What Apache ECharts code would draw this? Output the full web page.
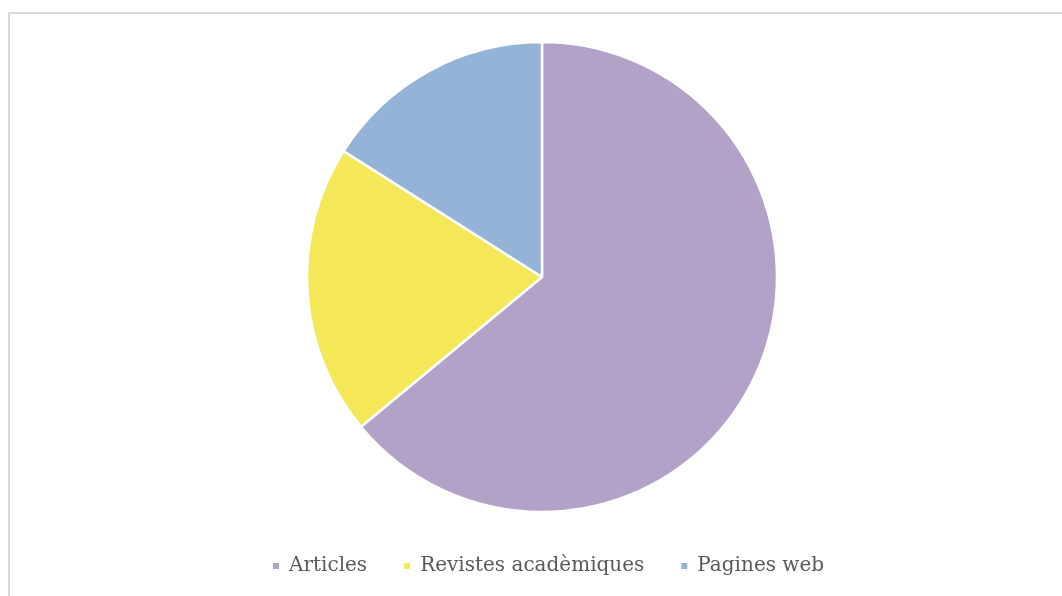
<!DOCTYPE html>
<html>
<head>
<meta charset="utf-8">
<script src="https://cdn.jsdelivr.net/npm/echarts@6/dist/echarts.min.js"></script>
<style>
  html, body { margin: 0; padding: 0; background: #fff; }
  #frame {
    position: absolute; left: 8px; top: 12px; width: 1060px; height: 590px;
    border-left: 2px solid #d9d9d9; border-top: 2px solid #d9d9d9;
  }
  #chart { position: absolute; left: 0; top: 0; width: 1062px; height: 596px; }
</style>
</head>
<body>
<div id="frame"></div>
<div id="chart"></div>
<script>
  const categories = ["Articles", "Revistes acadèmiques", "Pagines web"];
  const values = [16, 5, 4];
  const colors = ["#b3a2c7", "#f4e858", "#95b3d7"];

  const chart = echarts.init(document.getElementById("chart"));
  chart.setOption({
    animation: false,
    color: colors,
    legend: {
      data: categories,
      bottom: 15,
      left: 266,
      icon: "rect",
      itemWidth: 8,
      itemHeight: 8,
      itemGap: 35,
      textStyle: {
        fontFamily: "DejaVu Serif",
        fontSize: 20,
        color: "#595959",
        padding: [0, 0, 0, 4],
      },
    },
    series: [
      {
        type: "pie",
        center: [542, 277],
        radius: 235,
        startAngle: 90,
        clockwise: true,
        label: { show: false },
        labelLine: { show: false },
        itemStyle: { borderColor: "#fff", borderWidth: 2.5 },
        emphasis: { disabled: true },
        data: categories.map((name, i) => ({ name, value: values[i] })),
      },
    ],
  });
</script>
</body>
</html>
